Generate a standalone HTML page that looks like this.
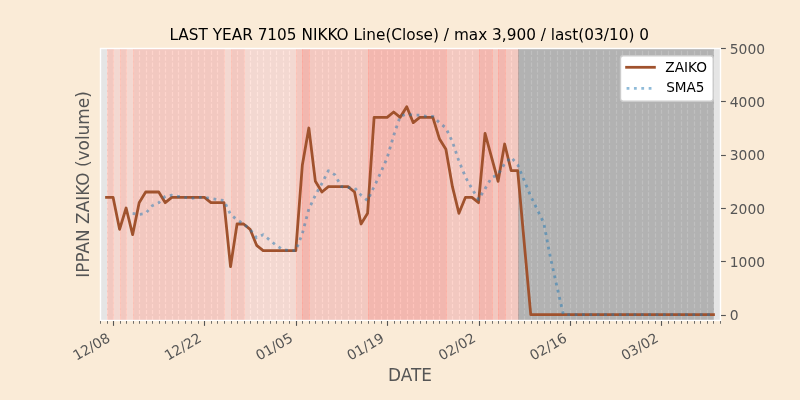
<!DOCTYPE html>
<html lang="en"><head><meta charset="utf-8"><title>LAST YEAR 7105 NIKKO</title>
<style>html,body{margin:0;padding:0;background:#faebd7;}svg{display:block}text{font-family:'DejaVu Sans','Liberation Sans',sans-serif}</style></head><body>
<svg width="800" height="400" viewBox="0 0 800 400">
<rect width="800" height="400" fill="#faebd7"/>
<defs><clipPath id="ax"><rect x="100" y="48" width="620" height="272"/></clipPath></defs>
<rect x="100" y="48" width="620" height="272" fill="#e5e5e5"/>
<g clip-path="url(#ax)" stroke="#fff" stroke-width="1.11" stroke-opacity="1" stroke-dasharray="4.11 1.78" fill="none">
<path d="M100.5 320 V48"/>
<path d="M107.5 320 V48"/>
<path d="M113.5 320 V48"/>
<path d="M120.5 320 V48"/>
<path d="M126.5 320 V48"/>
<path d="M133.5 320 V48"/>
<path d="M139.5 320 V48"/>
<path d="M146.5 320 V48"/>
<path d="M152.5 320 V48"/>
<path d="M159.5 320 V48"/>
<path d="M165.5 320 V48"/>
<path d="M172.5 320 V48"/>
<path d="M178.5 320 V48"/>
<path d="M185.5 320 V48"/>
<path d="M191.5 320 V48"/>
<path d="M198.5 320 V48"/>
<path d="M204.5 320 V48"/>
<path d="M211.5 320 V48"/>
<path d="M217.5 320 V48"/>
<path d="M224.5 320 V48"/>
<path d="M231.5 320 V48"/>
<path d="M237.5 320 V48"/>
<path d="M244.5 320 V48"/>
<path d="M250.5 320 V48"/>
<path d="M257.5 320 V48"/>
<path d="M263.5 320 V48"/>
<path d="M270.5 320 V48"/>
<path d="M276.5 320 V48"/>
<path d="M283.5 320 V48"/>
<path d="M289.5 320 V48"/>
<path d="M296.5 320 V48"/>
<path d="M302.5 320 V48"/>
<path d="M309.5 320 V48"/>
<path d="M315.5 320 V48"/>
<path d="M322.5 320 V48"/>
<path d="M328.5 320 V48"/>
<path d="M335.5 320 V48"/>
<path d="M341.5 320 V48"/>
<path d="M348.5 320 V48"/>
<path d="M355.5 320 V48"/>
<path d="M361.5 320 V48"/>
<path d="M368.5 320 V48"/>
<path d="M374.5 320 V48"/>
<path d="M381.5 320 V48"/>
<path d="M387.5 320 V48"/>
<path d="M394.5 320 V48"/>
<path d="M400.5 320 V48"/>
<path d="M407.5 320 V48"/>
<path d="M413.5 320 V48"/>
<path d="M420.5 320 V48"/>
<path d="M426.5 320 V48"/>
<path d="M433.5 320 V48"/>
<path d="M439.5 320 V48"/>
<path d="M446.5 320 V48"/>
<path d="M452.5 320 V48"/>
<path d="M459.5 320 V48"/>
<path d="M465.5 320 V48"/>
<path d="M472.5 320 V48"/>
<path d="M479.5 320 V48"/>
<path d="M485.5 320 V48"/>
<path d="M492.5 320 V48"/>
<path d="M498.5 320 V48"/>
<path d="M505.5 320 V48"/>
<path d="M511.5 320 V48"/>
<path d="M518.5 320 V48"/>
<path d="M524.5 320 V48"/>
<path d="M531.5 320 V48"/>
<path d="M537.5 320 V48"/>
<path d="M544.5 320 V48"/>
<path d="M550.5 320 V48"/>
<path d="M557.5 320 V48"/>
<path d="M563.5 320 V48"/>
<path d="M570.5 320 V48"/>
<path d="M576.5 320 V48"/>
<path d="M583.5 320 V48"/>
<path d="M589.5 320 V48"/>
<path d="M596.5 320 V48"/>
<path d="M603.5 320 V48"/>
<path d="M609.5 320 V48"/>
<path d="M616.5 320 V48"/>
<path d="M622.5 320 V48"/>
<path d="M629.5 320 V48"/>
<path d="M635.5 320 V48"/>
<path d="M642.5 320 V48"/>
<path d="M648.5 320 V48"/>
<path d="M655.5 320 V48"/>
<path d="M661.5 320 V48"/>
<path d="M668.5 320 V48"/>
<path d="M674.5 320 V48"/>
<path d="M681.5 320 V48"/>
<path d="M687.5 320 V48"/>
<path d="M694.5 320 V48"/>
<path d="M700.5 320 V48"/>
<path d="M707.5 320 V48"/>
<path d="M713.5 320 V48"/>
<path d="M720.5 320 V48"/>
</g>
<g clip-path="url(#ax)">
<rect x="107.50" y="43" width="6.00" height="282" fill="#feb0a2" fill-opacity="0.550" stroke="#feb0a2" stroke-opacity="0.550" stroke-width="0.69"/>
<rect x="113.50" y="43" width="7.00" height="282" fill="#ffcdc1" fill-opacity="0.550" stroke="#ffcdc1" stroke-opacity="0.550" stroke-width="0.69"/>
<rect x="120.50" y="43" width="6.00" height="282" fill="#feb0a2" fill-opacity="0.550" stroke="#feb0a2" stroke-opacity="0.550" stroke-width="0.69"/>
<rect x="126.50" y="43" width="7.00" height="282" fill="#ffcdc1" fill-opacity="0.550" stroke="#ffcdc1" stroke-opacity="0.550" stroke-width="0.69"/>
<rect x="133.50" y="43" width="91.00" height="282" fill="#feb0a2" fill-opacity="0.550" stroke="#feb0a2" stroke-opacity="0.550" stroke-width="0.69"/>
<rect x="224.50" y="43" width="7.00" height="282" fill="#ffcdc1" fill-opacity="0.550" stroke="#ffcdc1" stroke-opacity="0.550" stroke-width="0.69"/>
<rect x="231.50" y="43" width="13.00" height="282" fill="#feb0a2" fill-opacity="0.550" stroke="#feb0a2" stroke-opacity="0.550" stroke-width="0.69"/>
<rect x="244.50" y="43" width="52.00" height="282" fill="#ffcdc1" fill-opacity="0.550" stroke="#ffcdc1" stroke-opacity="0.550" stroke-width="0.69"/>
<rect x="296.50" y="43" width="6.00" height="282" fill="#feb0a2" fill-opacity="0.550" stroke="#feb0a2" stroke-opacity="0.550" stroke-width="0.69"/>
<rect x="302.50" y="43" width="7.00" height="282" fill="#fe9183" fill-opacity="0.550" stroke="#fe9183" stroke-opacity="0.550" stroke-width="0.69"/>
<rect x="309.50" y="43" width="59.00" height="282" fill="#feb0a2" fill-opacity="0.550" stroke="#feb0a2" stroke-opacity="0.550" stroke-width="0.69"/>
<rect x="368.50" y="43" width="78.00" height="282" fill="#fe9183" fill-opacity="0.550" stroke="#fe9183" stroke-opacity="0.550" stroke-width="0.69"/>
<rect x="446.50" y="43" width="33.00" height="282" fill="#feb0a2" fill-opacity="0.550" stroke="#feb0a2" stroke-opacity="0.550" stroke-width="0.69"/>
<rect x="479.50" y="43" width="13.00" height="282" fill="#fe9183" fill-opacity="0.550" stroke="#fe9183" stroke-opacity="0.550" stroke-width="0.69"/>
<rect x="492.50" y="43" width="6.00" height="282" fill="#feb0a2" fill-opacity="0.550" stroke="#feb0a2" stroke-opacity="0.550" stroke-width="0.69"/>
<rect x="498.50" y="43" width="7.00" height="282" fill="#fe9183" fill-opacity="0.550" stroke="#fe9183" stroke-opacity="0.550" stroke-width="0.69"/>
<rect x="505.50" y="43" width="13.00" height="282" fill="#feb0a2" fill-opacity="0.550" stroke="#feb0a2" stroke-opacity="0.550" stroke-width="0.69"/>
<rect x="518.50" y="43" width="195.00" height="282" fill="#808080" fill-opacity="0.500" stroke="#808080" stroke-opacity="0.500" stroke-width="0.69"/>
</g>
<g clip-path="url(#ax)" fill="none" stroke-linejoin="round">
<polyline points="106.53,197.33 113.05,197.33 119.58,229.33 126.11,208.00 132.63,234.67 139.16,202.67 145.68,192.00 152.21,192.00 158.74,192.00 165.26,202.67 171.79,197.33 178.32,197.33 184.84,197.33 191.37,197.33 197.89,197.33 204.42,197.33 210.95,202.67 217.47,202.67 224.00,202.67 230.53,266.67 237.05,224.00 243.58,224.00 250.11,229.33 256.63,245.33 263.16,250.67 269.68,250.67 276.21,250.67 282.74,250.67 289.26,250.67 295.79,250.67 302.32,165.33 308.84,128.00 315.37,181.33 321.89,192.00 328.42,186.67 334.95,186.67 341.47,186.67 348.00,186.67 354.53,192.00 361.05,224.00 367.58,213.33 374.11,117.33 380.63,117.33 387.16,117.33 393.68,112.00 400.21,117.33 406.74,106.67 413.26,122.67 419.79,117.33 426.32,117.33 432.84,117.33 439.37,138.67 445.89,149.33 452.42,186.67 458.95,213.33 465.47,197.33 472.00,197.33 478.53,202.67 485.05,133.33 491.58,157.33 498.11,181.33 504.63,144.00 511.16,170.67 517.68,170.67 530.74,314.67 543.79,314.67 550.32,314.67 556.84,314.67 563.37,314.67 569.89,314.67 576.42,314.67 582.95,314.67 589.47,314.67 596.00,314.67 602.53,314.67 609.05,314.67 615.58,314.67 622.11,314.67 628.63,314.67 635.16,314.67 641.68,314.67 648.21,314.67 654.74,314.67 661.26,314.67 667.79,314.67 674.32,314.67 680.84,314.67 687.37,314.67 693.89,314.67 700.42,314.67 706.95,314.67 713.47,314.67" stroke="#a0522d" stroke-width="2.78" stroke-linecap="square"/>
<polyline points="132.63,213.33 139.16,214.40 145.68,213.33 152.21,205.87 158.74,202.67 165.26,196.27 171.79,195.20 178.32,196.27 184.84,197.33 191.37,198.40 197.89,197.33 204.42,197.33 210.95,198.40 217.47,199.47 224.00,200.53 230.53,214.40 237.05,219.73 243.58,224.00 250.11,229.33 256.63,237.87 263.16,234.67 269.68,240.00 276.21,245.33 282.74,249.60 289.26,250.67 295.79,250.67 302.32,233.60 308.84,209.07 315.37,195.20 321.89,183.47 328.42,170.67 334.95,174.93 341.47,186.67 348.00,187.73 354.53,187.73 361.05,195.20 367.58,200.53 374.11,186.67 380.63,172.80 387.16,157.87 393.68,135.47 400.21,116.27 406.74,114.13 413.26,115.20 419.79,115.20 426.32,116.27 432.84,116.27 439.37,122.67 445.89,128.00 452.42,141.87 458.95,161.07 465.47,177.07 472.00,188.80 478.53,199.47 485.05,188.80 491.58,177.60 498.11,174.40 504.63,163.73 511.16,157.33 517.68,164.80 530.74,196.27 543.79,222.93 550.32,257.07 556.84,285.87 563.37,314.67 569.89,314.67 576.42,314.67 582.95,314.67 589.47,314.67 596.00,314.67 602.53,314.67 609.05,314.67 615.58,314.67 622.11,314.67 628.63,314.67 635.16,314.67 641.68,314.67 648.21,314.67 654.74,314.67 661.26,314.67 667.79,314.67 674.32,314.67 680.84,314.67 687.37,314.67 693.89,314.67 700.42,314.67 706.95,314.67 713.47,314.67" stroke="#1f77b4" stroke-opacity="0.5" stroke-width="2.78" stroke-dasharray="2.78 4.58" stroke-linecap="butt"/>
</g>
<rect x="100.5" y="48.5" width="620" height="272" fill="none" stroke="#fff" stroke-width="1.39"/>
<g stroke="#555" stroke-width="1.11" fill="none">
<path d="M113.5 321 v4.86"/>
<path d="M204.5 321 v4.86"/>
<path d="M296.5 321 v4.86"/>
<path d="M387.5 321 v4.86"/>
<path d="M479.5 321 v4.86"/>
<path d="M570.5 321 v4.86"/>
<path d="M661.5 321 v4.86"/>
<path d="M721 315.5 h4.86"/>
<path d="M721 261.5 h4.86"/>
<path d="M721 208.5 h4.86"/>
<path d="M721 155.5 h4.86"/>
<path d="M721 101.5 h4.86"/>
<path d="M721 48.5 h4.86"/>
</g>
<g stroke="#555" stroke-width="0.83" fill="none">
<path d="M100.5 321 v2.78"/>
<path d="M107.5 321 v2.78"/>
<path d="M120.5 321 v2.78"/>
<path d="M126.5 321 v2.78"/>
<path d="M133.5 321 v2.78"/>
<path d="M139.5 321 v2.78"/>
<path d="M146.5 321 v2.78"/>
<path d="M152.5 321 v2.78"/>
<path d="M159.5 321 v2.78"/>
<path d="M165.5 321 v2.78"/>
<path d="M172.5 321 v2.78"/>
<path d="M178.5 321 v2.78"/>
<path d="M185.5 321 v2.78"/>
<path d="M191.5 321 v2.78"/>
<path d="M198.5 321 v2.78"/>
<path d="M211.5 321 v2.78"/>
<path d="M217.5 321 v2.78"/>
<path d="M224.5 321 v2.78"/>
<path d="M231.5 321 v2.78"/>
<path d="M237.5 321 v2.78"/>
<path d="M244.5 321 v2.78"/>
<path d="M250.5 321 v2.78"/>
<path d="M257.5 321 v2.78"/>
<path d="M263.5 321 v2.78"/>
<path d="M270.5 321 v2.78"/>
<path d="M276.5 321 v2.78"/>
<path d="M283.5 321 v2.78"/>
<path d="M289.5 321 v2.78"/>
<path d="M302.5 321 v2.78"/>
<path d="M309.5 321 v2.78"/>
<path d="M315.5 321 v2.78"/>
<path d="M322.5 321 v2.78"/>
<path d="M328.5 321 v2.78"/>
<path d="M335.5 321 v2.78"/>
<path d="M341.5 321 v2.78"/>
<path d="M348.5 321 v2.78"/>
<path d="M355.5 321 v2.78"/>
<path d="M361.5 321 v2.78"/>
<path d="M368.5 321 v2.78"/>
<path d="M374.5 321 v2.78"/>
<path d="M381.5 321 v2.78"/>
<path d="M394.5 321 v2.78"/>
<path d="M400.5 321 v2.78"/>
<path d="M407.5 321 v2.78"/>
<path d="M413.5 321 v2.78"/>
<path d="M420.5 321 v2.78"/>
<path d="M426.5 321 v2.78"/>
<path d="M433.5 321 v2.78"/>
<path d="M439.5 321 v2.78"/>
<path d="M446.5 321 v2.78"/>
<path d="M452.5 321 v2.78"/>
<path d="M459.5 321 v2.78"/>
<path d="M465.5 321 v2.78"/>
<path d="M472.5 321 v2.78"/>
<path d="M485.5 321 v2.78"/>
<path d="M492.5 321 v2.78"/>
<path d="M498.5 321 v2.78"/>
<path d="M505.5 321 v2.78"/>
<path d="M511.5 321 v2.78"/>
<path d="M518.5 321 v2.78"/>
<path d="M524.5 321 v2.78"/>
<path d="M531.5 321 v2.78"/>
<path d="M537.5 321 v2.78"/>
<path d="M544.5 321 v2.78"/>
<path d="M550.5 321 v2.78"/>
<path d="M557.5 321 v2.78"/>
<path d="M563.5 321 v2.78"/>
<path d="M576.5 321 v2.78"/>
<path d="M583.5 321 v2.78"/>
<path d="M589.5 321 v2.78"/>
<path d="M596.5 321 v2.78"/>
<path d="M603.5 321 v2.78"/>
<path d="M609.5 321 v2.78"/>
<path d="M616.5 321 v2.78"/>
<path d="M622.5 321 v2.78"/>
<path d="M629.5 321 v2.78"/>
<path d="M635.5 321 v2.78"/>
<path d="M642.5 321 v2.78"/>
<path d="M648.5 321 v2.78"/>
<path d="M655.5 321 v2.78"/>
<path d="M668.5 321 v2.78"/>
<path d="M674.5 321 v2.78"/>
<path d="M681.5 321 v2.78"/>
<path d="M687.5 321 v2.78"/>
<path d="M694.5 321 v2.78"/>
<path d="M700.5 321 v2.78"/>
<path d="M707.5 321 v2.78"/>
<path d="M713.5 321 v2.78"/>
<path d="M720.5 321 v2.78"/>
</g>
<g fill="#555" font-size="13.89">
<text transform="translate(111.15 340.8) rotate(-30)" text-anchor="end">12/08</text>
<text transform="translate(202.52 340.8) rotate(-30)" text-anchor="end">12/22</text>
<text transform="translate(293.89 340.8) rotate(-30)" text-anchor="end">01/05</text>
<text transform="translate(385.26 340.8) rotate(-30)" text-anchor="end">01/19</text>
<text transform="translate(476.63 340.8) rotate(-30)" text-anchor="end">02/02</text>
<text transform="translate(567.99 340.8) rotate(-30)" text-anchor="end">02/16</text>
<text transform="translate(659.36 340.8) rotate(-30)" text-anchor="end">03/02</text>
<text x="729.8" y="320.17">0</text>
<text x="729.8" y="266.83">1000</text>
<text x="729.8" y="213.50">2000</text>
<text x="729.8" y="160.17">3000</text>
<text x="729.8" y="106.83">4000</text>
<text x="729.8" y="53.50">5000</text>
</g>
<text x="410" y="380.8" font-size="16.9" fill="#555" text-anchor="middle">DATE</text>
<text transform="translate(89.1 184.5) rotate(-90)" font-size="16.9" fill="#555" text-anchor="middle">IPPAN ZAIKO (volume)</text>
<text x="409.2" y="39.7" font-size="15.31" fill="#000" text-anchor="middle">LAST YEAR 7105 NIKKO Line(Close) / max 3,900 / last(03/10) 0</text>
<rect x="620.5" y="55.7" width="92.7" height="45.5" rx="2.8" fill="#fff" stroke="#ccc" stroke-width="1.39"/>
<path d="M626.6 67.3 h27.8" stroke="#a0522d" stroke-width="2.78" stroke-linecap="square"/>
<path d="M626.6 88.3 h27.8" stroke="#1f77b4" stroke-opacity="0.5" stroke-width="2.78" stroke-dasharray="2.78 4.58"/>
<text x="665.3" y="72.1" font-size="13.7" fill="#000">ZAIKO</text>
<text x="666.2" y="92.35" font-size="13.6" fill="#000">SMA5</text>
</svg></body></html>
